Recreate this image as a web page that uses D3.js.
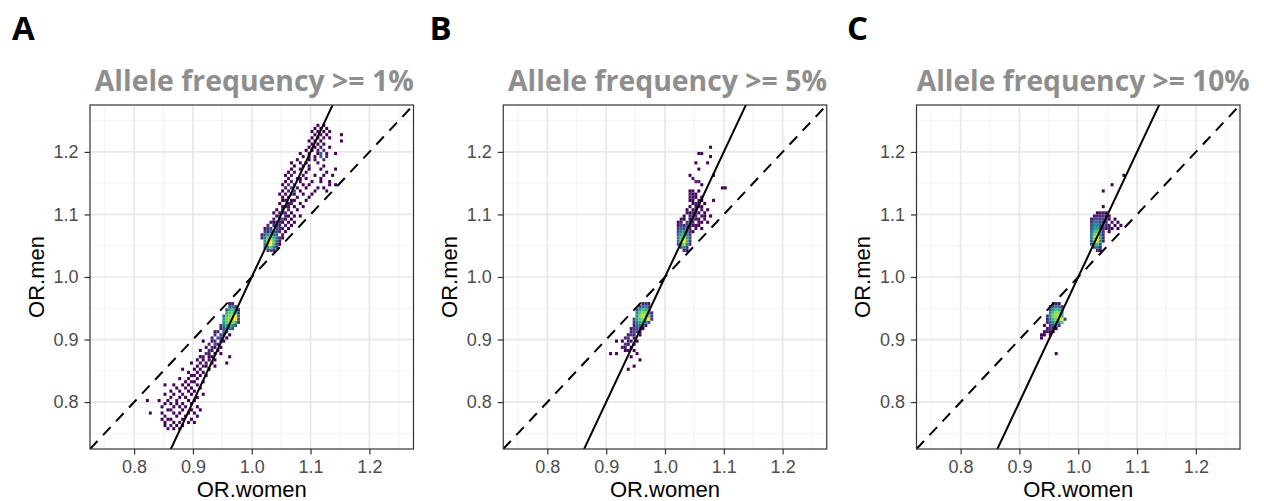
<!DOCTYPE html>
<html><head><meta charset="utf-8">
<script src="https://cdn.jsdelivr.net/npm/d3@7"></script>
<style>body{margin:0;background:#fff} svg{display:block}</style>
</head><body><svg id="c" width="1264" height="501"></svg>
<script>
// ---------------- data ----------------
const panelLabels = ["A", "B", "C"];
const titles = ["Allele frequency >= 1%", "Allele frequency >= 5%", "Allele frequency >= 10%"];
const xLabel = "OR.women";
const yLabel = "OR.men";
const axisTicks = [0.8, 0.9, 1.0, 1.1, 1.2];
const minorTicks = [0.75, 0.85, 0.95, 1.05, 1.15, 1.25];
const axisDomain = [0.725, 1.275];
const binWidth = 0.005;
const fitSlope = 2, fitIntercept = -1;      // solid regression line
const idSlope = 1, idIntercept = 0;         // dashed identity line
const maxCount = 20;

// each row: [OR.men bin, OR.women bin, count, OR.women bin, count, ...]
const binsA = [
[0.755, 0.855,2, 0.865,1, 0.875,1],
[0.760, 0.850,1, 0.860,2, 0.870,1, 0.880,1],
[0.765, 0.850,1, 0.865,1, 0.875,2, 0.890,1, 0.900,1],
[0.770, 0.845,1, 0.855,1, 0.860,1, 0.880,1, 0.895,1],
[0.775, 0.850,2, 0.870,1, 0.885,1, 0.905,1],
[0.780, 0.825,1, 0.845,1, 0.865,1, 0.875,1, 0.890,1, 0.900,1],
[0.785, 0.855,1, 0.860,2, 0.880,1, 0.895,1, 0.910,1],
[0.790, 0.845,1, 0.865,1, 0.875,1, 0.885,2, 0.905,1],
[0.795, 0.850,1, 0.860,1, 0.870,1, 0.880,1, 0.895,1],
[0.800, 0.820,1, 0.840,1, 0.855,1, 0.870,2, 0.890,1, 0.900,1],
[0.805, 0.860,1, 0.875,1, 0.885,1, 0.905,1],
[0.810, 0.850,1, 0.865,1, 0.880,2, 0.895,1, 0.915,1],
[0.815, 0.860,1, 0.875,1, 0.890,1, 0.900,1],
[0.820, 0.870,1, 0.885,2, 0.895,1, 0.910,1],
[0.825, 0.850,1, 0.865,1, 0.880,1, 0.890,1, 0.905,1],
[0.830, 0.885,1, 0.895,2, 0.900,1, 0.915,1],
[0.835, 0.875,1, 0.890,1, 0.905,1],
[0.840, 0.895,1, 0.900,2, 0.910,1, 0.920,1],
[0.845, 0.890,1, 0.905,1, 0.915,1],
[0.850, 0.880,1, 0.900,1, 0.910,2, 0.925,1],
[0.855, 0.905,1, 0.915,2, 0.920,1, 0.935,1],
[0.860, 0.895,1, 0.910,1, 0.920,2, 0.930,1, 0.955,1],
[0.865, 0.905,1, 0.915,1, 0.925,2, 0.935,1],
[0.870, 0.910,1, 0.915,2, 0.925,1, 0.930,1, 0.960,1],
[0.875, 0.920,3, 0.925,2, 0.935,1, 0.945,1],
[0.880, 0.910,1, 0.925,3, 0.930,2, 0.940,1],
[0.885, 0.920,2, 0.930,4, 0.935,2, 0.945,1],
[0.890, 0.925,3, 0.935,5, 0.940,2],
[0.895, 0.915,1, 0.930,2, 0.935,4, 0.945,3, 0.950,1],
[0.900, 0.930,3, 0.940,6, 0.945,3, 0.955,1],
[0.905, 0.935,4, 0.945,5, 0.950,3, 0.960,1],
[0.910, 0.935,2, 0.940,3, 0.950,7, 0.955,4],
[0.915, 0.945,3, 0.950,6, 0.955,8, 0.960,9, 0.965,5],
[0.920, 0.945,4, 0.950,9, 0.955,12, 0.960,14, 0.965,11, 0.970,6],
[0.925, 0.950,11, 0.955,15, 0.960,16, 0.965,17, 0.970,14, 0.975,4],
[0.930, 0.950,12, 0.955,16, 0.960,17, 0.965,18, 0.970,22, 0.975,6],
[0.935, 0.950,8, 0.955,15, 0.960,16, 0.965,17, 0.970,21, 0.975,8],
[0.940, 0.955,13, 0.960,15, 0.965,16, 0.970,14, 0.975,5],
[0.945, 0.955,6, 0.960,12, 0.965,14, 0.970,11, 0.975,3],
[0.950, 0.960,7, 0.965,9, 0.970,5],
[0.955, 0.960,2, 0.965,3],
[1.040, 1.025,4, 1.030,6, 1.035,3],
[1.045, 1.020,7, 1.025,12, 1.030,15, 1.035,9, 1.040,3],
[1.050, 1.020,10, 1.025,16, 1.030,21, 1.035,14, 1.040,5, 1.045,1],
[1.055, 1.020,11, 1.025,17, 1.030,22, 1.035,15, 1.040,7, 1.045,2],
[1.060, 1.015,3, 1.020,9, 1.025,15, 1.030,17, 1.035,13, 1.040,8, 1.045,3, 1.050,1],
[1.065, 1.015,2, 1.020,7, 1.025,11, 1.030,12, 1.035,9, 1.040,6, 1.050,2],
[1.070, 1.020,5, 1.025,3, 1.030,8, 1.035,7, 1.040,5, 1.045,3, 1.055,1],
[1.075, 1.020,2, 1.025,4, 1.030,5, 1.040,6, 1.045,4, 1.050,2, 1.060,1],
[1.080, 1.025,3, 1.035,4, 1.040,5, 1.045,3, 1.055,2, 1.065,1],
[1.085, 1.030,2, 1.035,1, 1.040,4, 1.045,3, 1.050,1, 1.060,1, 1.070,1],
[1.090, 1.035,3, 1.045,4, 1.050,5, 1.055,2, 1.065,1],
[1.095, 1.040,2, 1.045,3, 1.055,3, 1.060,1, 1.070,1, 1.080,1],
[1.100, 1.035,1, 1.045,2, 1.050,4, 1.055,3, 1.065,1],
[1.105, 1.040,1, 1.050,2, 1.060,3, 1.075,1],
[1.110, 1.050,1, 1.055,3, 1.060,2, 1.070,1, 1.085,1],
[1.115, 1.045,1, 1.060,2, 1.065,3, 1.080,1],
[1.120, 1.050,1, 1.055,2, 1.065,1, 1.070,1, 1.090,1],
[1.125, 1.050,1, 1.060,3, 1.075,1, 1.095,1],
[1.130, 1.045,1, 1.055,2, 1.065,5, 1.070,2, 1.085,1, 1.100,1],
[1.135, 1.050,1, 1.060,3, 1.070,6, 1.080,1, 1.105,1, 1.125,1],
[1.140, 1.055,2, 1.065,5, 1.075,2, 1.090,1, 1.110,1, 1.120,1],
[1.145, 1.050,1, 1.060,4, 1.070,3, 1.085,1, 1.095,1, 1.130,1, 1.140,1],
[1.150, 1.055,1, 1.065,3, 1.080,1, 1.100,1, 1.115,1, 1.130,1],
[1.155, 1.060,2, 1.075,3, 1.080,1, 1.090,1, 1.115,1],
[1.160, 1.055,1, 1.065,2, 1.085,2, 1.105,1, 1.120,1, 1.135,1],
[1.165, 1.060,1, 1.070,2, 1.090,1, 1.125,1],
[1.170, 1.065,1, 1.080,2, 1.095,1, 1.115,1, 1.140,1],
[1.175, 1.070,1, 1.085,1, 1.095,2, 1.120,1],
[1.180, 1.065,1, 1.080,1, 1.090,1, 1.110,2],
[1.185, 1.075,1, 1.095,1, 1.105,2, 1.120,4],
[1.190, 1.085,1, 1.095,1, 1.105,2, 1.115,6, 1.125,3],
[1.195, 1.080,1, 1.095,2, 1.110,1, 1.115,7, 1.125,2, 1.140,1],
[1.200, 1.090,1, 1.100,1, 1.110,3, 1.120,4],
[1.205, 1.095,1, 1.105,1, 1.115,2, 1.130,1],
[1.210, 1.100,1, 1.110,1, 1.120,1],
[1.215, 1.095,1, 1.105,2, 1.115,1, 1.150,1],
[1.220, 1.100,1, 1.110,1, 1.120,2, 1.130,1],
[1.225, 1.105,1, 1.115,2, 1.125,1, 1.150,1],
[1.230, 1.100,1, 1.110,1, 1.120,1, 1.130,1],
[1.235, 1.105,1, 1.115,1, 1.125,1],
[1.240, 1.110,1, 1.120,1]
];

const binsB = [
[0.850, 0.935,1],
[0.855, 0.945,1],
[0.865, 0.955,1],
[0.870, 0.940,1],
[0.875, 0.905,1, 0.915,1, 0.950,1],
[0.880, 0.930,1, 0.935,2, 0.945,1],
[0.885, 0.925,2, 0.930,3, 0.940,1],
[0.890, 0.930,4, 0.935,2, 0.945,1],
[0.895, 0.915,1, 0.925,1, 0.935,3, 0.940,2, 0.950,1],
[0.900, 0.930,3, 0.935,4, 0.945,2],
[0.905, 0.935,2, 0.940,4, 0.945,3, 0.955,1],
[0.910, 0.940,3, 0.945,5, 0.950,4, 0.955,2],
[0.915, 0.940,2, 0.945,4, 0.950,6, 0.955,3, 0.960,1],
[0.920, 0.945,3, 0.950,7, 0.955,8, 0.960,5, 0.965,2],
[0.925, 0.945,4, 0.950,9, 0.955,12, 0.960,13, 0.965,10, 0.970,5],
[0.930, 0.945,5, 0.950,12, 0.955,15, 0.960,16, 0.965,15, 0.970,22, 0.975,4],
[0.935, 0.950,11, 0.955,16, 0.960,18, 0.965,17, 0.970,16, 0.975,5],
[0.940, 0.950,9, 0.955,15, 0.960,17, 0.965,16, 0.970,12, 0.975,3],
[0.945, 0.950,6, 0.955,12, 0.960,14, 0.965,13, 0.970,8],
[0.950, 0.955,5, 0.960,8, 0.965,9, 0.970,5],
[0.955, 0.960,3, 0.965,4, 0.970,2],
[1.040, 1.030,3, 1.035,2],
[1.045, 1.025,6, 1.030,9, 1.035,4],
[1.050, 1.020,5, 1.025,13, 1.030,17, 1.035,10, 1.040,3],
[1.055, 1.020,8, 1.025,16, 1.030,22, 1.035,14, 1.040,4],
[1.060, 1.020,9, 1.025,15, 1.030,19, 1.035,13, 1.040,5],
[1.065, 1.020,7, 1.025,12, 1.030,14, 1.035,10, 1.040,4],
[1.070, 1.020,5, 1.025,10, 1.030,11, 1.035,7, 1.040,4, 1.045,1],
[1.075, 1.020,4, 1.025,7, 1.030,6, 1.035,5, 1.040,3, 1.050,2, 1.060,1],
[1.080, 1.020,2, 1.025,5, 1.030,3, 1.035,6, 1.040,4, 1.045,2, 1.050,1, 1.055,1],
[1.085, 1.020,1, 1.025,3, 1.035,4, 1.040,5, 1.045,3, 1.055,2, 1.060,1, 1.070,1],
[1.090, 1.025,2, 1.030,1, 1.040,2, 1.045,6, 1.050,2, 1.055,1, 1.065,2],
[1.095, 1.030,1, 1.040,3, 1.045,4, 1.050,3, 1.060,2, 1.065,1, 1.075,1],
[1.100, 1.035,2, 1.040,1, 1.045,3, 1.050,4, 1.055,2, 1.065,1],
[1.105, 1.035,1, 1.045,2, 1.050,1, 1.060,2, 1.070,1],
[1.110, 1.040,1, 1.050,2, 1.055,3, 1.060,1],
[1.115, 1.045,1, 1.050,2, 1.055,1, 1.065,1],
[1.120, 1.040,1, 1.045,1, 1.055,2, 1.060,1, 1.080,1],
[1.125, 1.040,2, 1.045,2, 1.050,1, 1.060,1],
[1.130, 1.040,2, 1.045,1, 1.050,1],
[1.135, 1.040,1, 1.045,2, 1.055,1],
[1.140, 1.095,1, 1.100,1],
[1.145, 1.060,1],
[1.150, 1.050,3, 1.055,2],
[1.155, 1.045,2],
[1.160, 1.040,1, 1.080,1],
[1.170, 1.055,1],
[1.180, 1.050,1, 1.070,1],
[1.190, 1.075,1],
[1.195, 1.055,1, 1.060,1],
[1.205, 1.075,1]
];

const binsC = [
[0.875, 0.960,1],
[0.900, 0.935,1],
[0.905, 0.935,1, 0.940,1, 0.950,1],
[0.910, 0.940,1, 0.945,2, 0.950,1, 0.955,2],
[0.915, 0.945,2, 0.950,4, 0.955,3, 0.960,1],
[0.920, 0.940,1, 0.950,4, 0.955,6, 0.960,7, 0.965,4],
[0.925, 0.945,3, 0.950,7, 0.955,10, 0.960,12, 0.965,11, 0.970,15],
[0.930, 0.945,3, 0.950,10, 0.955,14, 0.960,16, 0.965,16, 0.970,22, 0.975,4],
[0.935, 0.945,4, 0.950,11, 0.955,16, 0.960,17, 0.965,18, 0.970,14],
[0.940, 0.950,9, 0.955,15, 0.960,17, 0.965,16, 0.970,11],
[0.945, 0.950,6, 0.955,11, 0.960,14, 0.965,13, 0.970,7],
[0.950, 0.950,3, 0.955,7, 0.960,9, 0.965,8, 0.970,4],
[0.955, 0.955,2, 0.960,3, 0.965,2],
[1.040, 1.030,3, 1.035,1],
[1.045, 1.025,6, 1.030,8, 1.035,3],
[1.050, 1.020,5, 1.025,12, 1.030,14, 1.035,7],
[1.055, 1.020,7, 1.025,16, 1.030,19, 1.035,11, 1.040,2],
[1.060, 1.020,8, 1.025,17, 1.030,22, 1.035,13, 1.040,3],
[1.065, 1.020,9, 1.025,16, 1.030,18, 1.035,11, 1.040,3],
[1.070, 1.020,8, 1.025,14, 1.030,15, 1.035,9, 1.040,4, 1.050,1],
[1.075, 1.020,7, 1.025,12, 1.030,12, 1.035,7, 1.040,4, 1.045,2, 1.050,3, 1.055,1, 1.065,1],
[1.080, 1.020,6, 1.025,10, 1.030,10, 1.035,6, 1.040,5, 1.045,4, 1.050,2, 1.060,1, 1.070,1],
[1.085, 1.020,4, 1.025,8, 1.030,8, 1.035,5, 1.040,4, 1.045,3, 1.055,2, 1.065,1],
[1.090, 1.020,2, 1.025,5, 1.030,6, 1.035,4, 1.040,5, 1.045,3, 1.050,2, 1.060,1],
[1.095, 1.025,2, 1.030,3, 1.035,3, 1.040,4, 1.045,2, 1.050,1],
[1.100, 1.030,1, 1.035,2, 1.040,2, 1.045,1],
[1.110, 1.040,1],
[1.135, 1.040,1],
[1.145, 1.055,1],
[1.160, 1.075,1]
];

const panelBins = [binsA, binsB, binsC];

// ---------------- layout ----------------
const panelLeft = [90, 503.25, 916.5];
const panelTop = 105, panelW = 323.5, panelH = 344;
const titleColor = "#8e8e8e";

function expandRows(rows) {
  const out = [];
  rows.forEach(r => { for (let i = 1; i < r.length; i += 2) out.push({x: r[i], y: r[0], n: r[i + 1]}); });
  return out;
}

const svg = d3.select("#c");
svg.append("rect").attr("width", 1264).attr("height", 501).attr("fill", "#fff");
const color = d3.scaleSequential(d3.interpolateViridis).domain([1, maxCount]).clamp(true);

panelLabels.forEach((lab, i) => {
  const left = panelLeft[i];
  const x = d3.scaleLinear().domain(axisDomain).range([0, panelW]);
  const y = d3.scaleLinear().domain(axisDomain).range([panelH, 0]);

  // panel letter
  svg.append("text").attr("x", 12 + i * 417.5).attr("y", 40)
    .attr("font-family", "'Open Sans', sans-serif").attr("font-weight", 700)
    .attr("font-size", 33).attr("fill", "#000").text(lab);

  // title
  svg.append("text").attr("x", left + panelW / 2 + (i === 2 ? 5 : 2.5)).attr("y", 91)
    .attr("text-anchor", "middle")
    .attr("font-family", "'Open Sans', sans-serif").attr("font-weight", 700)
    .attr("font-size", 29).attr("fill", titleColor)
    .attr("textLength", i === 2 ? 333 : 319).attr("lengthAdjust", "spacingAndGlyphs")
    .text(titles[i]);

  const g = svg.append("g").attr("transform", `translate(${left},${panelTop})`);
  const clipId = "clip" + i;
  g.append("clipPath").attr("id", clipId).append("rect")
    .attr("width", panelW).attr("height", panelH);

  // grid
  const grid = g.append("g");
  minorTicks.forEach(v => {
    grid.append("line").attr("x1", x(v)).attr("x2", x(v)).attr("y1", 0).attr("y2", panelH)
      .attr("stroke", "#f0f0f0").attr("stroke-width", 0.9);
    grid.append("line").attr("y1", y(v)).attr("y2", y(v)).attr("x1", 0).attr("x2", panelW)
      .attr("stroke", "#f0f0f0").attr("stroke-width", 0.9);
  });
  axisTicks.forEach(v => {
    grid.append("line").attr("x1", x(v)).attr("x2", x(v)).attr("y1", 0).attr("y2", panelH)
      .attr("stroke", "#e8e8e8").attr("stroke-width", 1.7);
    grid.append("line").attr("y1", y(v)).attr("y2", y(v)).attr("x1", 0).attr("x2", panelW)
      .attr("stroke", "#e8e8e8").attr("stroke-width", 1.7);
  });

  // bins
  const cells = expandRows(panelBins[i]);
  g.append("g").attr("clip-path", `url(#${clipId})`).selectAll("rect").data(cells).join("rect")
    .attr("x", d => x(d.x))
    .attr("y", d => y(d.y + binWidth))
    .attr("width", d => x(d.x + binWidth) - x(d.x))
    .attr("height", d => y(d.y) - y(d.y + binWidth))
    .attr("fill", d => color(d.n));

  // lines
  const lg = g.append("g").attr("clip-path", `url(#${clipId})`);
  const line = d3.line().x(d => x(d[0])).y(d => y(d[1]));
  lg.append("path").attr("d", line(axisDomain.map(v => [v, idSlope * v + idIntercept])))
    .attr("fill", "none").attr("stroke", "#000").attr("stroke-width", 2)
    .attr("stroke-dasharray", "11,8");
  const xs = [axisDomain[0] - 0.1, axisDomain[1] + 0.1];
  lg.append("path").attr("d", line(xs.map(v => [v, fitSlope * v + fitIntercept])))
    .attr("fill", "none").attr("stroke", "#000").attr("stroke-width", 2);

  // border
  g.append("rect").attr("width", panelW).attr("height", panelH)
    .attr("fill", "none").attr("stroke", "#333").attr("stroke-width", 1.2);

  // axes
  const fmt = d3.format(".1f");
  const xa = g.append("g").attr("transform", `translate(0,${panelH})`)
    .call(d3.axisBottom(x).tickValues(axisTicks).tickFormat(fmt).tickSize(5.5).tickPadding(5.5));
  const ya = g.append("g")
    .call(d3.axisLeft(y).tickValues(axisTicks).tickFormat(fmt).tickSize(5.5).tickPadding(6));
  [xa, ya].forEach(a => {
    a.select(".domain").remove();
    a.selectAll(".tick line").attr("stroke", "#333").attr("stroke-width", 1.2);
    a.selectAll(".tick text").attr("fill", "#4d4d4d")
      .attr("font-family", "'Liberation Sans', Arial, sans-serif").attr("font-size", 18);
  });

  // axis titles
  svg.append("text").attr("x", left + panelW / 2).attr("y", 497)
    .attr("text-anchor", "middle").attr("font-family", "'Liberation Sans', Arial, sans-serif")
    .attr("font-size", 22).attr("fill", "#000").text(xLabel);
  svg.append("text").attr("transform", `translate(${left - 46.5},${panelTop + panelH / 2}) rotate(-90)`)
    .attr("text-anchor", "middle").attr("font-family", "'Liberation Sans', Arial, sans-serif")
    .attr("font-size", 22).attr("fill", "#000").text(yLabel);
});
</script></body></html>
